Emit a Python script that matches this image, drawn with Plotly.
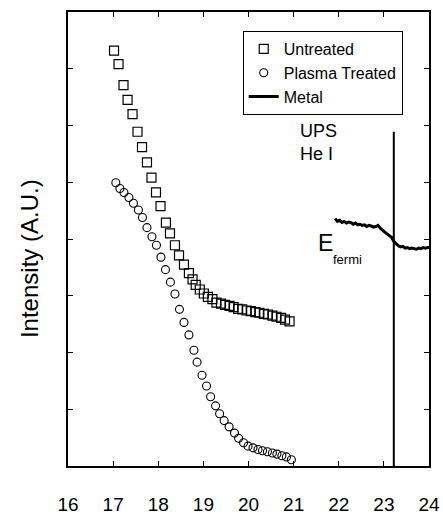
import plotly.graph_objects as go

# ---- data ----
untreated_x = [17.02, 17.12, 17.23, 17.32, 17.43, 17.54, 17.64, 17.75, 17.85, 17.95,
               18.05, 18.17, 18.26, 18.37, 18.46, 18.57, 18.68, 18.76, 18.83, 18.92,
               19.01, 19.10, 19.20, 19.29, 19.39, 19.48, 19.58, 19.67, 19.77, 19.86,
               19.96, 20.05, 20.15, 20.24, 20.34, 20.43, 20.53, 20.62, 20.72, 20.81, 20.91]
untreated_y = [7.32, 7.08, 6.71, 6.45, 6.20, 5.89, 5.62, 5.35, 5.08, 4.82,
               4.58, 4.29, 4.10, 3.89, 3.71, 3.55, 3.40, 3.29, 3.19, 3.11,
               3.04, 2.98, 2.94, 2.88, 2.86, 2.84, 2.82, 2.80, 2.77, 2.76,
               2.74, 2.73, 2.71, 2.70, 2.68, 2.67, 2.65, 2.63, 2.61, 2.58, 2.55]

plasma_x = [17.06, 17.15, 17.24, 17.35, 17.45, 17.56, 17.65, 17.75, 17.86, 17.96,
            18.06, 18.16, 18.27, 18.37, 18.47, 18.57, 18.68, 18.79, 18.86, 18.97,
            19.07, 19.16, 19.27, 19.36, 19.46, 19.57, 19.69, 19.78, 19.89, 19.99,
            20.10, 20.21, 20.31, 20.42, 20.53, 20.63, 20.74, 20.84, 20.95]
plasma_y = [4.99, 4.89, 4.82, 4.73, 4.63, 4.51, 4.38, 4.20, 4.04, 3.89,
            3.68, 3.46, 3.24, 3.03, 2.76, 2.53, 2.31, 2.04, 1.83, 1.60,
            1.41, 1.22, 1.06, 0.92, 0.80, 0.69, 0.58, 0.49, 0.41, 0.35,
            0.32, 0.29, 0.27, 0.25, 0.23, 0.21, 0.18, 0.16, 0.11]

metal_x = [21.92, 21.97, 22.02, 22.07, 22.12, 22.17, 22.22, 22.27, 22.32, 22.37,
           22.42, 22.47, 22.52, 22.57, 22.62, 22.67, 22.72, 22.77, 22.82, 22.87,
           22.92, 22.97, 23.02, 23.07, 23.12, 23.17, 23.22, 23.27, 23.32, 23.37,
           23.42, 23.47, 23.52, 23.57, 23.62, 23.67, 23.72, 23.77, 23.82, 23.87,
           23.92, 23.97, 24.0]
metal_y = [4.36, 4.31, 4.33, 4.29, 4.31, 4.28, 4.30, 4.29, 4.26, 4.28,
           4.25, 4.26, 4.24, 4.25, 4.22, 4.24, 4.23, 4.21, 4.22, 4.24,
           4.19, 4.15, 4.12, 4.09, 4.06, 4.03, 3.96, 3.92, 3.88, 3.86,
           3.87, 3.84, 3.85, 3.83, 3.84, 3.83, 3.82, 3.84, 3.83, 3.85,
           3.84, 3.85, 3.85]

fermi_x = [23.22, 23.22]
fermi_y = [0.0, 5.89]

x_ticks = [16, 17, 18, 19, 20, 21, 22, 23, 24]
x_ticklabels = ["16", "17", "18", "19", "20", "21", "22", "23", "24"]
y_ticks = [1, 2, 3, 4, 5, 6, 7]

FONT = "Liberation Sans, Arial, Helvetica, sans-serif"

fig = go.Figure()
fig.add_trace(go.Scatter(
    x=untreated_x, y=untreated_y, mode="markers", name="Untreated",
    marker=dict(symbol="square-open", size=9, color="black", line=dict(width=1.2, color="black")),
))
fig.add_trace(go.Scatter(
    x=plasma_x, y=plasma_y, mode="markers", name="Plasma Treated",
    marker=dict(symbol="circle-open", size=8, color="black", line=dict(width=1.1, color="black")),
))
fig.add_trace(go.Scatter(
    x=metal_x, y=metal_y, mode="lines", name="Metal",
    line=dict(color="black", width=3),
))
fig.add_trace(go.Scatter(
    x=fermi_x, y=fermi_y, mode="lines", showlegend=False,
    line=dict(color="black", width=2),
))

axis_common = dict(
    showline=True, linecolor="black", linewidth=1.5, mirror="ticks",
    ticks="inside", ticklen=5, tickwidth=1, tickcolor="black",
    showgrid=False, zeroline=False, automargin=False,
)

fig.update_layout(
    width=443, height=517,
    margin=dict(l=68, r=14, t=12, b=51),
    paper_bgcolor="white", plot_bgcolor="white",
    font=dict(family=FONT, color="black"),
    xaxis=dict(range=[16, 24], tickvals=x_ticks, ticktext=x_ticklabels,
               tickfont=dict(size=19, family=FONT, color="black"),
               ticklabelstandoff=20, **axis_common),
    yaxis=dict(range=[0, 8], tickvals=y_ticks, showticklabels=False, **axis_common),
    legend=dict(x=0.484, y=0.958, xanchor="left", yanchor="top",
                bgcolor="white", bordercolor="black", borderwidth=1,
                font=dict(size=16, family=FONT, color="black"),
                tracegroupgap=0),
    annotations=[
        dict(text="Intensity (A.U.)", xref="paper", yref="paper", x=-0.105, y=0.456,
             xanchor="center", yanchor="middle", textangle=-90, showarrow=False,
             font=dict(size=24, family=FONT, color="black")),
        dict(text="UPS<br>He I", xref="paper", yref="paper", x=0.636, y=0.712,
             xanchor="left", yanchor="middle", align="left", showarrow=False,
             font=dict(size=18, family=FONT, color="black")),
        dict(text="E", xref="paper", yref="paper", x=0.688, y=0.491,
             xanchor="left", yanchor="middle", showarrow=False,
             font=dict(size=23, family=FONT, color="black")),
        dict(text="fermi", xref="paper", yref="paper", x=0.729, y=0.455,
             xanchor="left", yanchor="middle", showarrow=False,
             font=dict(size=13, family=FONT, color="black")),
    ],
)

fig.write_html("out.html",
               config={"displayModeBar": False},
               post_script="document.body.style.margin='0';document.body.style.overflow='hidden';")
